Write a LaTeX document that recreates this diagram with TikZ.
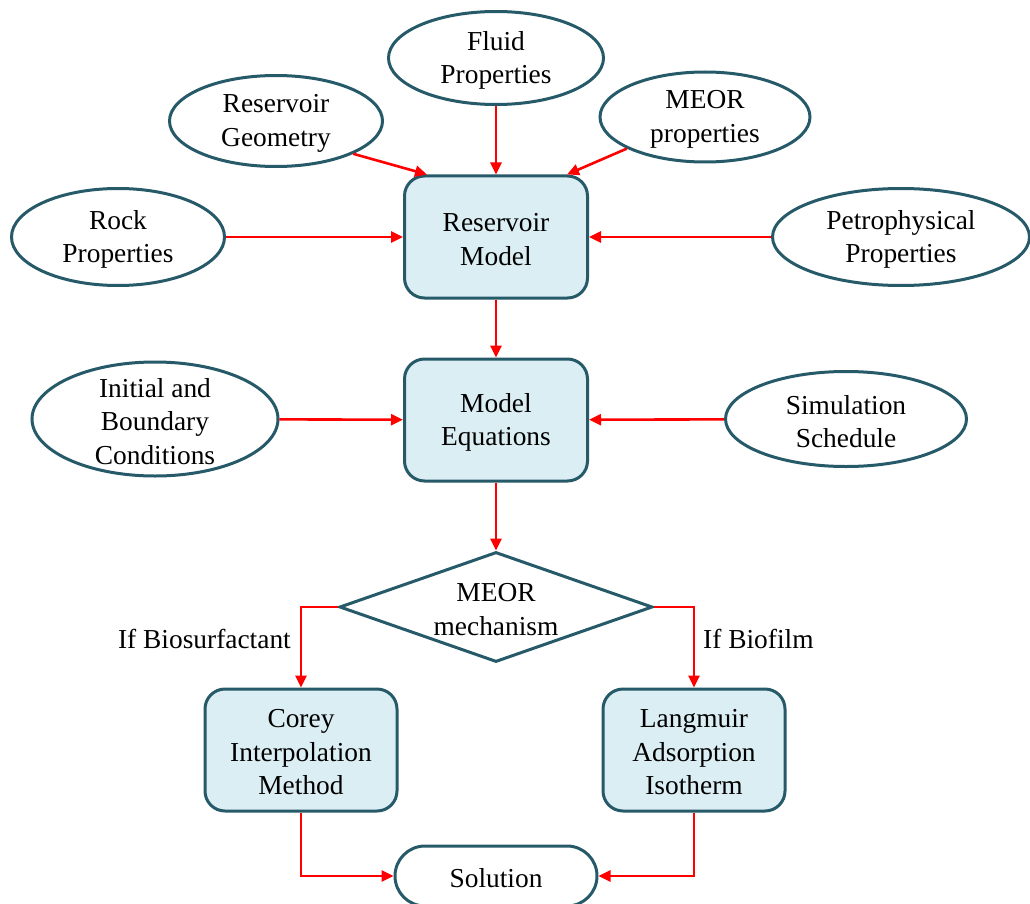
\documentclass[tikz,border=0pt]{standalone}
\usepackage{fontspec}
\setmainfont{Liberation Serif}
\usetikzlibrary{arrows.meta,shapes.geometric,shapes.misc,calc}
\definecolor{bord}{RGB}{38,90,105}
\definecolor{boxfill}{RGB}{218,238,243}
\begin{document}
\begin{tikzpicture}[x=1pt,y=-1pt,
  txt/.style={font=\fontsize{27.4}{33.5}\selectfont, align=center, inner sep=0pt},
  lbl/.style={txt, yshift=-2.5pt},
  ell/.style={ellipse, draw=bord, line width=3pt, fill=white, inner sep=0pt},
  bx/.style={rectangle, rounded corners=20pt, draw=bord, line width=3pt, fill=boxfill, inner sep=0pt, minimum width=183pt, minimum height=122pt},
  arr/.style={draw=red, line width=2.6pt, -{Triangle[length=12pt,width=11pt]}}]
\useasboundingbox (0,0) rectangle (1030,904);

% ellipses
\node[ell, minimum width=215pt, minimum height=93pt, label={[lbl]center:Fluid\\Properties}] (fluid) at (496,58) {};
\node[ell, minimum width=213pt, minimum height=91pt, label={[lbl]center:Reservoir\\Geometry}] (geo) at (276,121) {};
\node[ell, minimum width=210pt, minimum height=90pt, label={[lbl]center:MEOR\\properties}] (meor) at (705,117) {};
\node[ell, minimum width=213pt, minimum height=97pt, label={[lbl]center:Rock\\Properties}] (rock) at (118,237) {};
\node[ell, minimum width=257pt, minimum height=97pt, label={[lbl]center:Petrophysical\\Properties}] (petro) at (901,237) {};
\node[ell, minimum width=246pt, minimum height=114pt, label={[lbl]center:Initial and\\Boundary\\Conditions}] (init) at (155,419) {};
\node[ell, minimum width=241pt, minimum height=95pt, label={[lbl]center:Simulation\\Schedule}] (sim) at (846,419) {};

% boxes
\node[bx, label={[lbl]center:Reservoir\\Model}] (rm) at (496,237) {};
\node[bx, label={[lbl]center:Model\\Equations}] (me) at (496,420) {};
\node[bx, minimum width=192pt, label={[lbl]center:Corey\\Interpolation\\Method}] (corey) at (301,750) {};
\node[bx, minimum width=182pt, label={[lbl]center:Langmuir\\Adsorption\\Isotherm}] (lang) at (694,750) {};

% decision
\node[diamond, draw=bord, line width=3pt, fill=white, minimum width=313pt, minimum height=110pt, inner sep=0pt, label={[lbl]center:MEOR\\mechanism}] (dia) at (496,607) {};

% terminal
\node[rounded rectangle, draw=bord, line width=3pt, fill=white, minimum width=202pt, minimum height=60pt, inner sep=0pt, label={[lbl]center:Solution}] (sol) at (496,876) {};

% branch labels
\node[txt, anchor=east] (lbs) at (291,639) {If Biosurfactant};
\node[txt, anchor=west] (lbf) at (703,639) {If Biofilm};

% connectors
\draw[arr] (fluid) -- (rm);
\draw[arr] (geo.-23.5) -- ($(rm.north west)+(24,0)$);
\draw[arr] (meor.202) -- ($(rm.north east)+(-22,0)$);
\draw[arr] (rock) -- (rm);
\draw[arr] (petro) -- (rm);
\draw[arr] (rm) -- (me);
\draw[arr] (init) -- (me);
\draw[arr] (sim) -- (me);
\draw[arr] (me) -- (dia);
\draw[arr] (dia.west) -| (corey.north);
\draw[arr] (dia.east) -| (lang.north);
\draw[arr] (corey.south) |- (sol.west);
\draw[arr] (lang.south) |- (sol.east);
\end{tikzpicture}
\end{document}
